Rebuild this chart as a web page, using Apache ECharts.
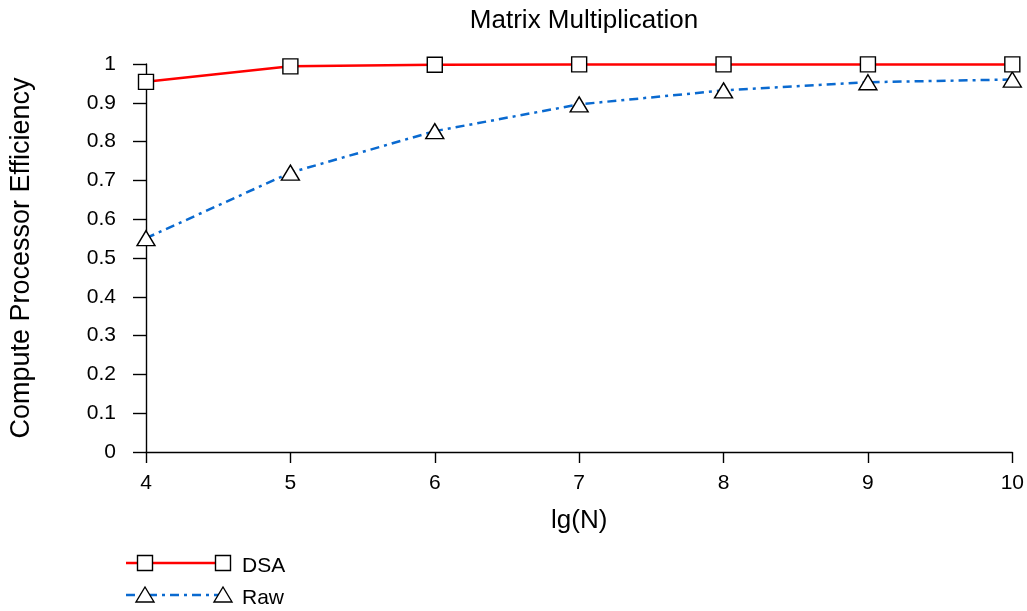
<!DOCTYPE html>
<html>
<head>
    <meta charset="utf-8" />
    <title>Matrix Multiplication</title>
    <script src="https://cdn.jsdelivr.net/npm/echarts@6/dist/echarts.min.js"></script>
    <style>
        html, body { margin: 0; padding: 0; background: #fff; }
        #chart { width: 1027px; height: 611px; }
    </style>
</head>
<body>
    <div id="chart"></div>
    <script>
        // data
        var lgN = [4, 5, 6, 7, 8, 9, 10];
        var dsa = [0.954, 0.994, 0.998, 0.999, 0.999, 0.999, 0.999];
        var raw = [0.551, 0.720, 0.827, 0.896, 0.932, 0.953, 0.960];

        var font = 'Liberation Sans, Arial, sans-serif';
        var rawDash = [9, 5, 3, 5];

        function pairs(xs, ys) {
            var out = [];
            for (var i = 0; i < xs.length; i++) {
                out.push([xs[i], ys[i]]);
            }
            return out;
        }

        // legend drawn by hand: line with a marker at each end
        function legendRow(y, color, dash, shape, label) {
            var items = [{
                type: 'line',
                shape: { x1: 126, y1: y, x2: 223, y2: y },
                style: { stroke: color, lineWidth: 2.5, lineDash: dash }
            }];
            [145, 223].forEach(function (cx) {
                if (shape === 'rect') {
                    items.push({
                        type: 'rect',
                        shape: { x: cx - 7.5, y: y - 7.5, width: 15, height: 15 },
                        style: { fill: '#fff', stroke: '#000', lineWidth: 1.4 }
                    });
                } else {
                    items.push({
                        type: 'polygon',
                        shape: { points: [[cx, y - 8], [cx + 9, y + 7], [cx - 9, y + 7]] },
                        style: { fill: '#fff', stroke: '#000', lineWidth: 1.4 }
                    });
                }
            });
            items.push({
                type: 'text',
                x: 242, y: y + 3,
                style: { text: label, fontSize: 21, fontFamily: font, fill: '#000', verticalAlign: 'middle' }
            });
            return items;
        }

        var chart = echarts.init(document.getElementById('chart'));
        var option = {
            animation: false,
            backgroundColor: '#fff',
            title: {
                text: 'Matrix Multiplication',
                left: 579, top: 3,
                textAlign: 'center',
                textStyle: { fontSize: 26, fontWeight: 'normal', fontFamily: font, color: '#000' }
            },
            grid: { left: 145, right: 14, top: 64, bottom: 159 },
            xAxis: {
                type: 'value',
                min: 4, max: 10, interval: 1,
                name: 'lg(N)',
                nameLocation: 'middle',
                nameGap: 56,
                nameTextStyle: { fontSize: 26, fontFamily: font, color: '#000' },
                axisLine: { lineStyle: { color: '#000', width: 1.4 } },
                axisTick: { show: true, length: 11, lineStyle: { color: '#000', width: 1.4 } },
                axisLabel: { fontSize: 21, fontFamily: font, color: '#000', margin: 21 },
                splitLine: { show: false }
            },
            yAxis: {
                type: 'value',
                min: 0, max: 1, interval: 0.1,
                name: 'Compute Processor Efficiency',
                nameLocation: 'middle',
                nameGap: 111,
                nameTextStyle: { fontSize: 27, fontFamily: font, color: '#000' },
                axisLine: { show: true, lineStyle: { color: '#000', width: 1.4 } },
                axisTick: { show: true, length: 13, lineStyle: { color: '#000', width: 1.4 } },
                axisLabel: { fontSize: 21, fontFamily: font, color: '#000', margin: 30 },
                splitLine: { show: false }
            },
            series: [{
                name: 'DSA',
                type: 'line',
                data: pairs(lgN, dsa),
                symbol: 'rect',
                symbolSize: 15,
                showAllSymbol: true,
                lineStyle: { color: '#ff0000', width: 2.5 },
                itemStyle: { color: '#fff', borderColor: '#000', borderWidth: 1.4 },
                z: 3
            }, {
                name: 'Raw',
                type: 'line',
                data: pairs(lgN, raw),
                symbol: 'triangle',
                symbolSize: [18, 15],
                showAllSymbol: true,
                lineStyle: { color: '#0a6ad0', width: 2.5, type: rawDash },
                itemStyle: { color: '#fff', borderColor: '#000', borderWidth: 1.4 },
                z: 2
            }],
            graphic: legendRow(563, '#ff0000', null, 'rect', 'DSA')
                .concat(legendRow(595, '#0a6ad0', rawDash, 'tri', 'Raw'))
        };
        chart.setOption(option);

        window.onresize = function () {
            chart.resize();
        };
    </script>
</body>
</html>
